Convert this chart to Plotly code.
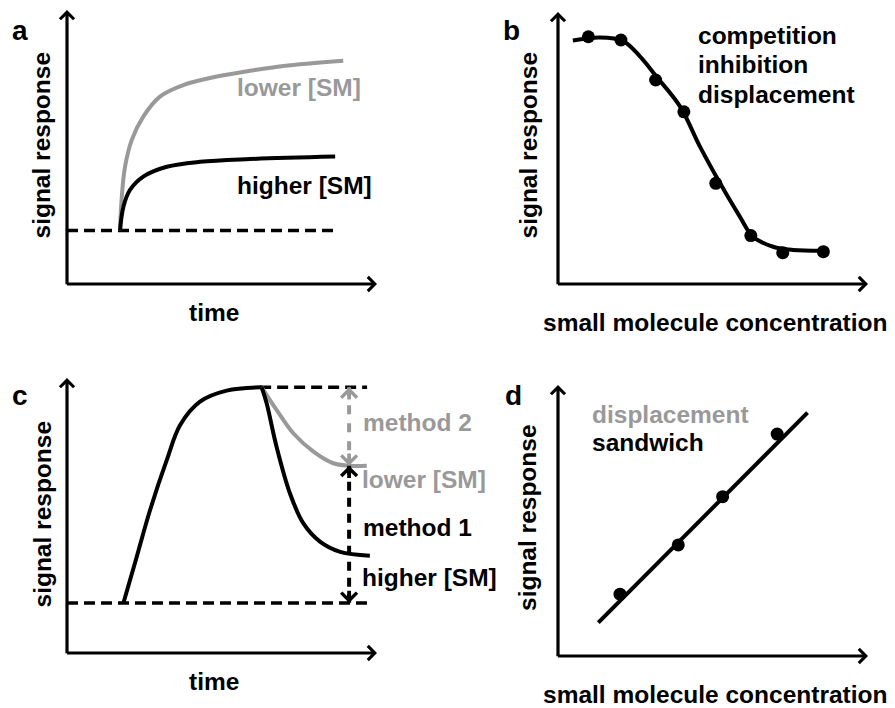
import plotly.graph_objects as go

W, H = 895, 708
GRAY = "#999999"
BLACK = "#000000"
FONT = "Liberation Sans, Arial, sans-serif"

# ---- panel a: association kinetics (time vs signal) ----
a_time_lower = [17.1, 17.6, 18.7, 20.9, 24.6, 30.0, 37.5, 48.3, 59.0, 69.8, 89.1]
a_sig_lower = [19.5, 30.7, 42.7, 52.6, 61.1, 68.4, 72.6, 75.7, 77.8, 79.6, 81.5]
a_time_higher = [17.1, 18.2, 20.3, 24.6, 32.2, 42.9, 59.0, 86.5]
a_sig_higher = [19.5, 28.2, 34.3, 39.2, 42.8, 44.6, 45.6, 46.5]
a_baseline = 19.5
a_baseline_span = [0.0, 87.1]

# ---- panel b: competitive dose-response ----
b_conc = [9.8, 20.3, 31.5, 40.6, 50.9, 62.2, 72.5, 85.6]
b_signal = [90.9, 89.7, 75.0, 63.3, 37.0, 17.8, 11.5, 11.9]
b_fit_conc = [4.8, 13.5, 21.0, 26.5, 31.8, 39.4, 45.8, 52.3, 58.7, 62.9, 69.4, 75.8, 85.5]
b_fit_signal = [89.5, 90.6, 89.3, 83.6, 76.2, 65.2, 50.5, 37.0, 24.7, 17.4, 13.7, 12.5, 12.2]

# ---- panel c: association then dissociation ----
c_rise_time = [18.2, 22.5, 26.8, 32.2, 36.5, 42.9, 51.5, 62.8]
c_rise_sig = [18.2, 35.0, 52.0, 70.2, 82.9, 91.4, 95.4, 96.6]
c_high_time = [62.8, 64.4, 67.6, 71.9, 76.2, 81.6, 88.1, 97.7]
c_high_sig = [96.6, 90.8, 75.0, 58.1, 47.2, 40.5, 36.8, 35.4]
c_low_time = [62.8, 67.6, 73.0, 79.5, 85.9, 90.7, 96.7]
c_low_sig = [96.6, 88.4, 79.9, 73.2, 69.0, 68.1, 68.1]
c_top_level = 96.6
c_top_span = [62.3, 96.8]
c_low_level = 68.1
c_baseline = 18.2
c_baseline_span = [0.0, 97.7]
c_arrow_time = 91.0

# ---- panel d: linear sandwich / displacement response ----
d_conc = [20.0, 38.8, 53.1, 70.7]
d_signal = [22.8, 41.0, 58.8, 81.9]
d_fit_conc = [13.0, 80.5]
d_fit_signal = [12.3, 89.8]

# axis boxes (pixels: left, right, bottom, top) for each panel
boxes = {
    "a": (67, 377, 284, 10),
    "b": (558, 868, 284, 12),
    "c": (67, 377, 653, 378),
    "d": (558, 868, 656, 385),
}

fig = go.Figure()
layout = dict(
    width=W, height=H, margin=dict(l=0, r=0, t=0, b=0),
    paper_bgcolor="white", plot_bgcolor="white", showlegend=False,
)
axis_ids = {}
for i, key in enumerate(["a", "b", "c", "d"]):
    n = "" if i == 0 else str(i + 1)
    left, right, bottom, top = boxes[key]
    layout["xaxis" + n] = dict(domain=[left / W, right / W], range=[0, 100],
                               visible=False, anchor="y" + n, fixedrange=True)
    layout["yaxis" + n] = dict(domain=[1 - bottom / H, 1 - top / H], range=[0, 100],
                               visible=False, anchor="x" + n, fixedrange=True)
    axis_ids[key] = ("x" + n, "y" + n)

def line(key, x, y, color=BLACK, width=4, dash=None, shape="spline"):
    xa, ya = axis_ids[key]
    fig.add_trace(go.Scatter(x=x, y=y, xaxis=xa, yaxis=ya, mode="lines",
                             line=dict(color=color, width=width, dash=dash, shape=shape),
                             hoverinfo="skip"))

def dots(key, x, y):
    xa, ya = axis_ids[key]
    fig.add_trace(go.Scatter(x=x, y=y, xaxis=xa, yaxis=ya, mode="markers",
                             marker=dict(color=BLACK, size=13), hoverinfo="skip"))

DASH = "11px,6px"

# panel a
line("a", a_baseline_span, [a_baseline] * 2, width=3.5, dash=DASH, shape="linear")
line("a", a_time_lower, a_sig_lower, color=GRAY)
line("a", a_time_higher, a_sig_higher)

# panel b
line("b", b_fit_conc, b_fit_signal)
dots("b", b_conc, b_signal)

# panel c
line("c", c_baseline_span, [c_baseline] * 2, width=3.5, dash=DASH, shape="linear")
line("c", c_top_span, [c_top_level] * 2, width=3.5, dash=DASH, shape="linear")
line("c", c_rise_time, c_rise_sig)
line("c", c_low_time, c_low_sig, color=GRAY)
line("c", c_high_time, c_high_sig)
line("c", [c_arrow_time] * 2, [c_top_level, c_low_level], color=GRAY, width=4,
     dash="9px,9px", shape="linear")
line("c", [c_arrow_time] * 2, [c_low_level, c_baseline], color=BLACK, width=4,
     dash="9px,7px", shape="linear")

# panel d
line("d", d_fit_conc, d_fit_signal, shape="linear")
dots("d", d_conc, d_signal)

annotations = []

def arrow(key, x, y, ax, ay, color=BLACK, width=3.2, size=0.85):
    xa, ya = axis_ids[key]
    annotations.append(dict(x=x, y=y, ax=ax, ay=ay, xref=xa, yref=ya, axref=xa, ayref=ya,
                            text="", showarrow=True, arrowhead=4, arrowsize=size,
                            arrowwidth=width, arrowcolor=color))

for key in ["a", "b", "c", "d"]:
    arrow(key, 100, 0, -0.5, 0)   # x axis
    arrow(key, 0, 100, 0, -0.6)   # y axis

# heads of the measurement arrows in panel c
arrow("c", c_arrow_time, c_top_level, c_arrow_time, c_top_level - 5, color=GRAY, width=3.8, size=0.8)
arrow("c", c_arrow_time, c_low_level, c_arrow_time, c_low_level + 5, color=GRAY, width=3.8, size=0.8)
arrow("c", c_arrow_time, c_low_level, c_arrow_time, c_low_level - 5, color=BLACK, width=3.8, size=0.8)
arrow("c", c_arrow_time, c_baseline, c_arrow_time, c_baseline + 5, color=BLACK, width=3.8, size=0.8)

def label(text, x, baseline, size=24.5, color=BLACK, anchor="center", angle=0):
    # x / baseline in pixels; box centre sits ~0.35 em above the baseline
    if angle == 0:
        yc = baseline - 0.35 * size
        annotations.append(dict(text="<b>%s</b>" % text, x=x / W, y=1 - yc / H,
                                xref="paper", yref="paper", xanchor=anchor, yanchor="middle",
                                showarrow=False, font=dict(family=FONT, size=size, color=color)))
    else:
        annotations.append(dict(text="<b>%s</b>" % text, x=x / W, y=1 - baseline / H,
                                xref="paper", yref="paper", xanchor="center", yanchor="middle",
                                textangle=angle, showarrow=False,
                                font=dict(family=FONT, size=size, color=color)))

# panel letters
label("a", 20, 40, size=28)
label("b", 512, 40, size=28)
label("c", 20, 405, size=28)
label("d", 513, 405, size=28)

# axis titles
label("signal response", 41.5, 145, angle=-90)
label("signal response", 528.5, 145, angle=-90)
label("signal response", 41.5, 514, angle=-90)
label("signal response", 527, 518, angle=-90)
label("time", 214, 321)
label("time", 214, 690)
label("small molecule concentration", 715, 331.5)
label("small molecule concentration", 715, 703)

# panel a texts
label("lower [SM]", 235, 96.5, color=GRAY, anchor="left")
label("higher [SM]", 235, 194, anchor="left")

# panel b texts
label("competition", 696, 44.5, anchor="left")
label("inhibition", 696, 73.5, anchor="left")
label("displacement", 696, 103, anchor="left")

# panel c texts
label("method 2", 361, 431.5, color=GRAY, anchor="left")
label("lower [SM]", 360, 488, color=GRAY, anchor="left")
label("method 1", 361, 536.5, anchor="left")
label("higher [SM]", 360, 586, anchor="left")

# panel d texts
label("displacement", 590, 423, color=GRAY, anchor="left")
label("sandwich", 590, 451.5, anchor="left")

layout["annotations"] = annotations
fig.update_layout(**layout)
fig.write_html("out.html")
